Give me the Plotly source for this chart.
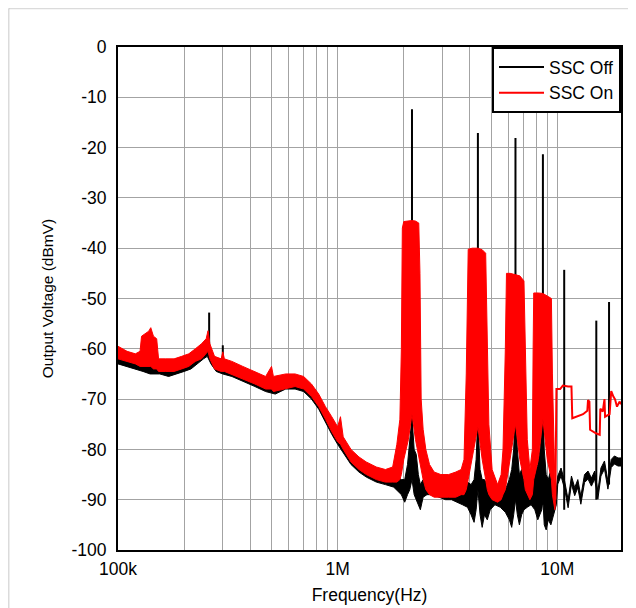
import plotly.graph_objects as go

# frequencies in MHz, levels in dBmV

# SSC Off: noise floor envelope (upper / lower edge of the trace)
off_f = [0.100, 0.110, 0.120, 0.130, 0.140, 0.155, 0.170, 0.185, 0.200, 0.215,
         0.230, 0.245, 0.255, 0.265, 0.280, 0.300, 0.330, 0.370, 0.420, 0.470,
         0.520, 0.580, 0.640, 0.700, 0.760, 0.820, 0.880, 0.940, 1.00, 1.07,
         1.15, 1.25, 1.35, 1.50, 1.65, 1.80, 1.95, 2.02, 2.08, 2.13,
         2.18, 2.23, 2.28, 2.33, 2.38, 2.45, 2.55, 2.70, 2.90, 3.10,
         3.30, 3.50, 3.70, 3.90, 4.05, 4.18, 4.27, 4.35, 4.45, 4.55,
         4.66, 4.80, 4.95, 5.20, 5.50, 5.80, 6.05, 6.20, 6.33, 6.45,
         6.58, 6.72, 6.88, 7.05, 7.30, 7.60, 7.90, 8.15, 8.35, 8.50,
         8.60, 8.72, 8.90, 9.10, 9.35, 9.60, 9.90, 10.05, 10.4, 10.8,
         11.2, 11.6, 12.0, 12.4, 12.8, 13.3, 13.8, 14.3, 14.8, 15.3,
         15.8, 16.4, 17.0, 17.6, 18.2, 18.9, 19.5]
off_hi = [-60.5, -61.5, -62, -62, -62.5, -63, -63, -62.5, -62, -61.5,
          -60.5, -59.5, -58, -61, -62, -62, -63, -64, -65, -66,
          -66.5, -65.5, -65.5, -66, -67.5, -69.5, -72, -74, -76, -78.5,
          -80.5, -82, -83, -84, -84.5, -85, -86, -86, -83, -78,
          -73.5, -80, -81, -85, -87, -86, -86, -86.5, -87, -87,
          -87.5, -87.5, -87, -86.5, -87, -86, -82, -73.5, -84, -86,
          -86, -87, -88, -88.5, -88.5, -88, -86, -84, -80, -72,
          -80, -85, -84, -86, -87, -86, -85, -83, -80, -76,
          -71, -80, -85, -86, -84, -86, -87.7, -85.3, -83.7, -86.3,
          -90, -85.3, -87.6, -86, -89.3, -85, -84.3, -85.7, -84.3, -88.3,
          -83.7, -82.3, -86.3, -82, -81.3, -81.7, -81.7]
off_lo = [-63, -63.5, -64, -64.5, -65, -65, -65.5, -65, -64.5, -64,
          -63, -62, -61.5, -63, -64.5, -65, -65.5, -66.5, -67.5, -68.5,
          -69, -68, -68, -68.5, -70, -72, -74.5, -77, -79, -81,
          -83, -84.5, -85.5, -86.5, -87, -87.5, -89, -90.5, -89, -88,
          -86, -89, -90, -91, -92, -89.5, -89, -89, -89.5, -90,
          -90, -90.5, -91, -91.5, -93, -94.5, -92, -88, -93, -95.5,
          -93, -94, -92, -91, -91.5, -92.5, -94, -95.5, -93, -90,
          -93, -95, -93, -92, -91.5, -91, -92, -94, -93, -92,
          -90, -95, -96, -94, -95, -93, -91, -86.9, -85.3, -87.9,
          -91.6, -86.9, -89.2, -87.6, -90.9, -86.6, -85.9, -87.3, -85.9, -89.9,
          -85.3, -83.9, -87.9, -83.6, -82.9, -83.3, -83.3]

# SSC Off: narrow switching harmonics and spurs
spike_f = [0.26, 0.30, 2.18, 4.35, 6.45, 8.60, 10.75, 15.05, 17.2]
spike_top = [-52.8, -59.3, -12.4, -17.1, -18.1, -21.3, -44.3, -54.4, -50.7]
spike_base = [-61, -63, -86, -88, -90, -91, -92, -90, -87]

# SSC On: envelope incl. the spread-spectrum blocks around each harmonic
on_f = [0.100, 0.110, 0.120, 0.126, 0.128, 0.133, 0.138, 0.141, 0.145, 0.150,
        0.153, 0.165, 0.180, 0.195, 0.210, 0.225, 0.240, 0.252, 0.257, 0.262,
        0.275, 0.295, 0.300, 0.305, 0.330, 0.370, 0.420, 0.470, 0.500, 0.510,
        0.580, 0.640, 0.700, 0.760, 0.820, 0.880, 0.940, 1.00, 1.03, 1.06,
        1.15, 1.25, 1.35, 1.50, 1.65, 1.78, 1.86, 1.92, 1.95, 1.97,
        2.00, 2.10, 2.18, 2.26, 2.34, 2.37, 2.40, 2.45, 2.52, 2.62,
        2.75, 2.95, 3.20, 3.45, 3.65, 3.76, 3.85, 3.93, 4.10, 4.35,
        4.55, 4.72, 4.80, 4.88, 5.05, 5.35, 5.55, 5.66, 5.80, 5.87,
        6.10, 6.45, 6.75, 7.05, 7.15, 7.30, 7.50, 7.70, 7.76, 7.81,
        8.20, 8.60, 9.00, 9.40, 9.50, 9.75, 9.80]
on_hi = [-59.5, -60.5, -61, -60.5, -57.5, -57, -56.5, -55.8, -57.5, -58,
         -62, -62, -62, -61.5, -61, -60, -59, -58, -56.4, -59,
         -61.5, -62, -60.6, -62, -62.5, -63.5, -64.5, -65.5, -63.5, -65.5,
         -65, -65, -65.5, -67, -69, -71.5, -73.5, -75.5, -73.5, -77.5,
         -80, -81.5, -82.5, -83.5, -84, -83.5, -79, -74, -60, -36,
         -34.7, -34.5, -34.5, -34.6, -35, -45, -70, -76, -80, -83,
         -84.5, -85, -85, -84.5, -84, -82, -65, -40.2, -40, -40,
         -40.3, -41, -60, -75, -84, -87, -85, -80, -60, -45,
         -45, -45.2, -45.5, -46.5, -60, -78, -84, -80, -60, -48.9,
         -48.9, -49, -49.5, -50, -65, -88, -89]
on_lo = [-62, -62.5, -63, -63.5, -63.5, -63.5, -63.5, -63.5, -64, -64,
         -64.5, -64.5, -64.5, -64, -63.5, -62.5, -62, -61, -60.5, -62,
         -64, -64.5, -64.5, -64.5, -65, -66, -67, -68, -68, -68.5,
         -68, -67.5, -68, -69.5, -71.5, -74, -76.5, -78.5, -79, -80,
         -82.5, -84, -85, -86, -86.5, -86.5, -86.5, -86, -85, -84,
         -82, -78, -73, -78, -82, -83, -84, -86, -88, -89,
         -89.5, -89.5, -89.5, -89.5, -89, -89, -88, -86, -82, -75.5,
         -82, -86, -88, -89, -90, -90.5, -90, -89, -88, -86,
         -82, -75, -82, -86, -88, -89, -90, -89, -88, -86,
         -82, -74, -82, -86, -89, -92, -91]

# SSC On: residual trace above 10 MHz
tail_f = [9.80, 9.91, 10.3, 10.6, 11.2, 11.6, 11.7, 12.3, 13.1, 13.7,
          13.8, 14.0, 14.1, 15.0, 15.6, 15.7, 16.1, 16.4, 16.5, 17.3,
          17.6, 18.0, 18.3, 18.7, 19.2, 19.5]
tail_v = [-90, -68, -68, -67.3, -67.5, -67.5, -73.8, -73.5, -73, -72.3,
          -70.2, -70.5, -76.1, -76.8, -77.1, -71.9, -72.5, -70, -73.5, -73,
          -68.4, -69.5, -70, -71.5, -70.5, -71]

x_ticks = [0.1, 1, 10]
x_ticktext = ["100k", "1M", "10M"]
y_ticks = [0, -10, -20, -30, -40, -50, -60, -70, -80, -90, -100]
y_ticktext = ["0", "-10", "-20", "-30", "-40", "-50", "-60", "-70", "-80", "-90", "-100"]

FONT = "Liberation Sans, Arial, sans-serif"
GRID = "#a3a3a3"


def band(f, hi, lo):
    return f + f[::-1], hi + lo[::-1]


fig = go.Figure()

bx, by = band(off_f, off_hi, off_lo)
fig.add_trace(go.Scatter(x=bx, y=by, mode="lines", fill="toself",
                         fillcolor="black", line=dict(color="black", width=1),
                         showlegend=False, hoverinfo="skip"))

sx, sy = [], []
for f, top, base in zip(spike_f, spike_top, spike_base):
    sx += [f, f, None]
    sy += [base, top, None]
fig.add_trace(go.Scatter(x=sx, y=sy, mode="lines", name="SSC Off",
                         line=dict(color="black", width=2), legendrank=1))

rx, ry = band(on_f, on_hi, on_lo)
fig.add_trace(go.Scatter(x=rx, y=ry, mode="lines", fill="toself",
                         fillcolor="#ff0000", line=dict(color="#ff0000", width=1),
                         showlegend=False, hoverinfo="skip"))

fig.add_trace(go.Scatter(x=tail_f, y=tail_v, mode="lines", name="SSC On",
                         line=dict(color="#ff0000", width=2), legendrank=2))

minor_vals = [m * d for d in (0.1, 1, 10) for m in range(2, 10)]

fig.update_xaxes(type="log", range=[-1, 1.29], automargin=False,
                 tickvals=x_ticks, ticktext=x_ticktext, ticks="",
                 ticklabelstandoff=2,
                 showgrid=True, gridcolor=GRID, gridwidth=1,
                 minor=dict(tickvals=minor_vals, showgrid=True,
                            gridcolor=GRID, gridwidth=1),
                 showline=True, linecolor="black", linewidth=2, mirror=True,
                 zeroline=False,
                 title=dict(text="Frequency(Hz)", standoff=11,
                            font=dict(size=17.5)))
fig.update_yaxes(range=[-100, 0], automargin=False,
                 tickvals=y_ticks, ticktext=y_ticktext, ticks="",
                 ticklabelstandoff=6,
                 showgrid=True, gridcolor=GRID, gridwidth=1,
                 showline=True, linecolor="black", linewidth=2, mirror=True,
                 zeroline=False,
                 title=dict(text="Output Voltage (dBmV)", standoff=14,
                            font=dict(size=15.5)))

# the page body adds an 8px offset, so margins are shifted by 8px
fig.update_layout(
    template="simple_white",
    width=636, height=608,
    margin=dict(l=110, r=23, t=39, b=66),
    paper_bgcolor="white", plot_bgcolor="white",
    font=dict(family=FONT, size=17.5, color="black"),
    legend=dict(x=1, y=1, xanchor="right", yanchor="top",
                bgcolor="white", bordercolor="black", borderwidth=2,
                itemwidth=45, font=dict(size=17.5)),
    shapes=[
        dict(type="line", xref="paper", yref="paper",
             x0=-0.2172, x1=1.05, y0=1.0765, y1=1.0765,
             line=dict(color="#8a8a8a", width=1.5)),
        dict(type="line", xref="paper", yref="paper",
             x0=-0.2172, x1=-0.2172, y0=1.0765, y1=-0.15,
             line=dict(color="#8a8a8a", width=1.5)),
    ],
)

fig.write_html("out.html")
